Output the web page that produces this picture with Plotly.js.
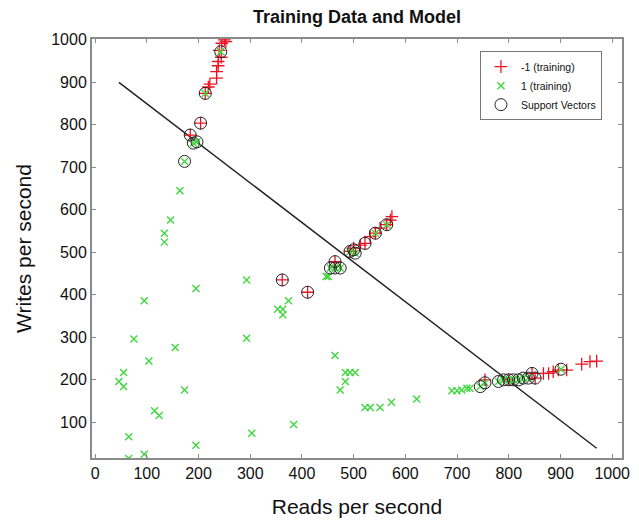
<!DOCTYPE html>
<html>
<head>
<meta charset="utf-8">
<script src="https://cdn.plot.ly/plotly-3.0.1.min.js"></script>
<style>html,body{margin:0;padding:0;background:#fff;}#chart{width:639px;height:522px;}</style>
</head>
<body>
<div id="chart"></div>
<script>
// Class -1 (training)
const negX = [184,204,213,219,222,235,235,238,238,244,240,245,253,250,
              362,411,464,493,500,513,522,532,542,551,564,571,574,
              754,800,845,851,867,877,886,896,912,941,957,970];
const negY = [776,804,874,889,896,910,925,939,949,959,975,992,996,1000,
              435,406,478,502,510,517,521,537,545,557,565,576,584,
              200,200,215,204,215,215,219,223,223,237,243,244];
// Class 1 (training)
const posX = [164,146,134,134,195,95,75,155,104,55,46,55,173,115,124,65,195,95,65,
              173,190,197,213,243,
              293,374,353,363,363,293,464,484,493,503,484,474,522,532,551,573,622,303,384,
              447,451,455,464,474,493,503,542,564,
              690,700,709,719,725,745,754,780,790,800,809,819,828,838,901];
const posY = [645,576,545,524,415,386,296,276,244,217,196,184,176,127,116,66,46,25,15,
              714,757,760,874,972,
              435,386,366,366,353,298,257,217,217,217,196,176,135,135,135,147,155,74,95,
              443,443,463,463,463,502,498,545,565,
              174,174,176,180,180,184,193,196,200,200,200,200,204,204,225];
// Support vectors
const svX = [173,184,190,197,204,213,243,
             362,411,455,464,474,464,493,500,503,522,542,564,
             745,754,780,790,800,809,819,828,838,845,851,901];
const svY = [714,776,757,760,804,874,972,
             435,406,463,463,463,478,502,506,498,521,545,565,
             184,193,196,200,200,200,200,204,204,215,204,225];
// Decision boundary (model)
const modelX = [46, 970];
const modelY = [900, 39];
const xTicks = [0,100,200,300,400,500,600,700,800,900,1000];
const yTicks = [100,200,300,400,500,600,700,800,900,1000];

const font = 'Liberation Sans, Arial, Helvetica, sans-serif';
const traces = [
  {x: modelX, y: modelY, mode: 'lines', line: {color: '#222', width: 1.5}, showlegend: false, hoverinfo: 'skip'},
  {x: negX, y: negY, mode: 'markers', name: '-1 (training)',
   marker: {symbol: 'cross-thin', size: 9, line: {color: '#ee1122', width: 1.3}, color: '#ee1122'}},
  {x: posX, y: posY, mode: 'markers', name: '1 (training)',
   marker: {symbol: 'x-thin', size: 7, line: {color: '#3fd83f', width: 1.4}, color: '#3fd83f'}},
  {x: svX, y: svY, mode: 'markers', name: 'Support Vectors',
   marker: {symbol: 'circle-open', size: 12, line: {color: '#222', width: 1}, color: '#222'}}
];
const axisCommon = {
  showgrid: false, zeroline: false, showline: true, linecolor: '#8a8a8a', linewidth: 2,
  mirror: 'allticks', ticks: 'inside', ticklen: 4, tickcolor: '#8a8a8a', tickwidth: 1,
  tickfont: {family: font, size: 16, color: '#111'}
};
const layout = {
  width: 639, height: 522,
  margin: {l: 92, r: 17, t: 39, b: 64},
  paper_bgcolor: '#fff', plot_bgcolor: '#fff',
  title: {text: '<b>Training Data and Model</b>', font: {family: font, size: 18, color: '#111'},
          x: 0.5, xref: 'paper', y: 1 - 17/522, yref: 'container', yanchor: 'middle'},
  xaxis: Object.assign({}, axisCommon, {range: [-6, 1019], tickvals: xTicks, ticktext: xTicks.map(String),
          title: {text: 'Reads per second', font: {family: font, size: 21, color: '#111'}, standoff: 18}}),
  yaxis: Object.assign({}, axisCommon, {range: [16, 1002], tickvals: yTicks, ticktext: yTicks.map(String),
          title: {text: 'Writes per second', font: {family: font, size: 21, color: '#111'}, standoff: 14}}),
  legend: {x: 0.732, y: 0.971, xanchor: 'left', yanchor: 'top', bgcolor: '#fff',
           bordercolor: '#777', borderwidth: 1, font: {family: font, size: 10.5, color: '#111'},
           tracegroupgap: 0, itemwidth: 30},
  showlegend: true
};
Plotly.newPlot('chart', traces, layout, {displayModeBar: false, staticPlot: true});
</script>
</body>
</html>
